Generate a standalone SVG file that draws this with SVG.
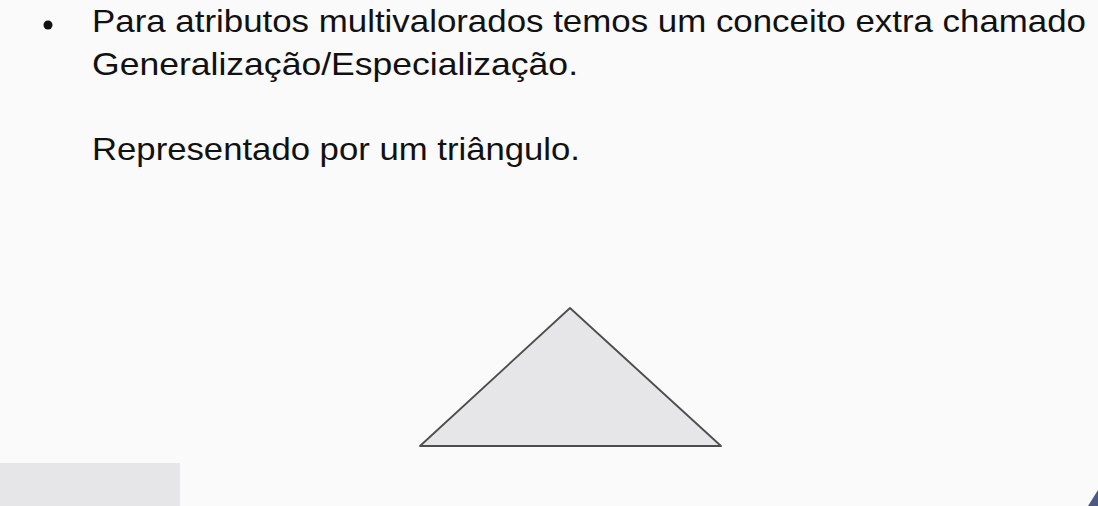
<svg xmlns="http://www.w3.org/2000/svg" width="1098" height="506" viewBox="0 0 1098 506">
<style>
.t{font-family:"Liberation Sans",Arial,sans-serif;font-size:32px;fill:#111}
</style>
<rect width="1098" height="506" fill="#fafafa"/>
<g id="text">
<circle cx="48" cy="25" r="4.5" fill="#111"/>
<text class="t" x="92" y="32" textLength="994" lengthAdjust="spacingAndGlyphs">Para atributos multivalorados temos um conceito extra chamado</text>
<text class="t" x="92" y="75" textLength="486" lengthAdjust="spacingAndGlyphs">Generalização/Especialização.</text>
<text class="t" x="92" y="160" textLength="488" lengthAdjust="spacingAndGlyphs">Representado por um triângulo.</text>
</g>
<g id="triangle">
<polygon points="570,308 420,446 721,446" fill="#e6e5e7" stroke="#4d4d4d" stroke-width="1.8" stroke-linejoin="round"/>
</g>
<rect x="0" y="463" width="180" height="43" fill="#e6e5e7"/>
<polygon points="1098,490 1098,506 1088,506" fill="#4a5a80"/>
</svg>
